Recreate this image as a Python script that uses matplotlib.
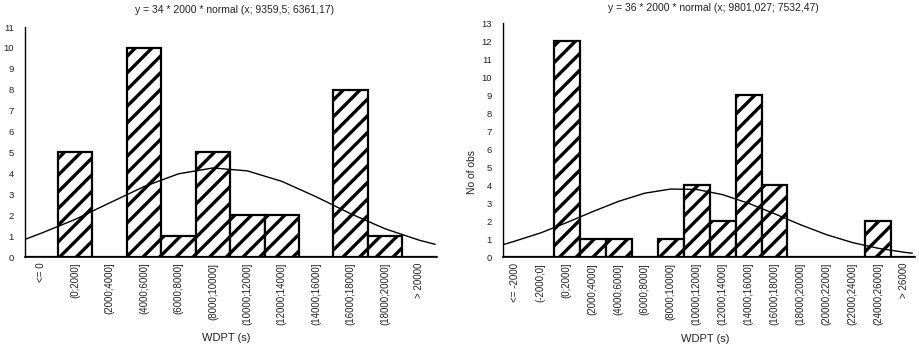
import matplotlib.pyplot as plt

plt.rcParams["font.family"] = ["Liberation Sans", "DejaVu Sans"]
plt.rcParams["hatch.linewidth"] = 2.4

# left panel: 34 observations
left_bins = ["<= 0", "(0;2000]", "(2000;4000]", "(4000;6000]", "(6000;8000]",
             "(8000;10000]", "(10000;12000]", "(12000;14000]", "(14000;16000]",
             "(16000;18000]", "(18000;20000]", "> 20000"]
left_counts = [0, 5, 0, 10, 1, 5, 2, 2, 0, 8, 1, 0]
left_curve_x = [-0.45, 0, 1, 2, 3, 4, 5, 6, 7, 8, 9, 10, 11, 11.45]
left_curve_y = [0.85, 1.13, 1.80, 2.59, 3.37, 3.98, 4.26, 4.12, 3.62, 2.88, 2.07, 1.35, 0.80, 0.61]
left_title = "y = 34 * 2000 * normal (x; 9359,5; 6361,17)"

# right panel: 36 observations
right_bins = ["<= -2000", "(-2000;0]", "(0;2000]", "(2000;4000]", "(4000;6000]",
              "(6000;8000]", "(8000;10000]", "(10000;12000]", "(12000;14000]",
              "(14000;16000]", "(16000;18000]", "(18000;20000]", "(20000;22000]",
              "(22000;24000]", "(24000;26000]", "> 26000"]
right_counts = [0, 0, 12, 1, 1, 0, 1, 4, 2, 9, 4, 0, 0, 0, 2, 0]
right_curve_x = [-0.46, 0, 1, 2, 3, 4, 5, 6, 7, 8, 9, 10, 11, 12, 13, 14, 15, 15.3]
right_curve_y = [0.70, 0.90, 1.36, 1.93, 2.54, 3.11, 3.56, 3.79, 3.77, 3.48, 3.00, 2.42,
                 1.81, 1.26, 0.82, 0.50, 0.28, 0.23]
right_title = "y = 36 * 2000 * normal (x; 9801,027; 7532,47)"

TXT = "#222222"


def draw_panel(ax, bins, counts, cx, cy, ymax, xmax):
    pos = range(len(bins))
    ax.bar(pos, counts, width=1.0, color="white", edgecolor="black",
           linewidth=1.6, hatch="//", zorder=2)
    ax.plot(cx, cy, color="black", linewidth=1.0, zorder=3)
    ax.set_xlim(-0.46, xmax)
    ax.set_ylim(0, ymax)
    ax.set_yticks(range(ymax + 1))
    ax.set_xticks(list(pos))
    ax.set_xticklabels(bins, rotation=90, va="top", ha="center")
    ax.tick_params(axis="both", length=0, colors=TXT)
    ax.tick_params(axis="x", pad=4, labelsize=7)
    ax.tick_params(axis="y", pad=8, labelsize=6.8)
    for side in ("top", "right"):
        ax.spines[side].set_visible(False)
    ax.spines["left"].set_linewidth(1.0)
    ax.spines["bottom"].set_linewidth(1.2)


fig = plt.figure(figsize=(9.19, 3.5), dpi=100)

ax1 = fig.add_axes([0.0272, 0.2657, 0.448, 0.657])
draw_panel(ax1, left_bins, left_counts, left_curve_x, left_curve_y, 11, 11.5)

ax2 = fig.add_axes([0.5473, 0.2648, 0.448, 0.669])
draw_panel(ax2, right_bins, right_counts, right_curve_x, right_curve_y, 13, 15.4)

fig.text(235 / 919, 1 - 10 / 350, left_title, ha="center", va="center", fontsize=7.5, color=TXT)
fig.text(713 / 919, 1 - 8 / 350, right_title, ha="center", va="center", fontsize=7.5, color=TXT)
fig.text(226 / 919, 1 - 338 / 350, "WDPT (s)", ha="center", va="center", fontsize=8, color=TXT)
fig.text(705 / 919, 1 - 339 / 350, "WDPT (s)", ha="center", va="center", fontsize=8, color=TXT)
fig.text(472 / 919, 1 - 172 / 350, "No of obs", ha="center", va="center", rotation=90,
         fontsize=7.5, color=TXT)

fig.savefig("out.png", dpi=100)
